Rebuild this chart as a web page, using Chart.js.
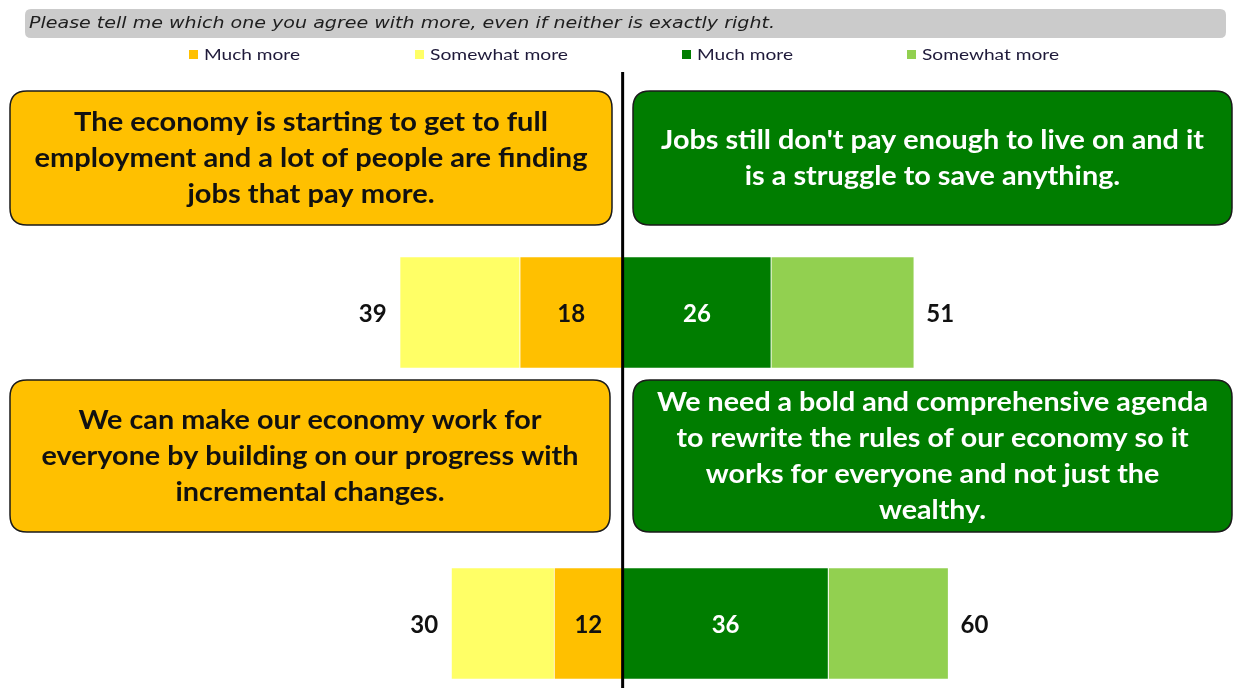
<!DOCTYPE html>
<html><head><meta charset="utf-8">
<script src="https://cdn.jsdelivr.net/npm/chart.js@4.4.1/dist/chart.umd.min.js"></script>
<style>html,body{margin:0;padding:0;background:#fff;}#c{display:block}</style>
</head><body>
<canvas id="c" width="1233" height="688"></canvas>
<script>
// ---- data ----
const rows = ['Row 1', 'Row 2'];
const leftMuch = [18, 12];
const leftSomewhat = [21, 18];
const rightMuch = [26, 36];
const rightSomewhat = [25, 21];
const leftTotals = [39, 30];
const rightTotals = [51, 60];
const seriesNames = ['Much more', 'Somewhat more', 'Much more', 'Somewhat more'];
const titleText = 'Please tell me which one you agree with more, even if neither is exactly right.';
const leftStatements = [
  ['The economy is starting to get to full', 'employment and a lot of people are finding', 'jobs that pay more.'],
  ['We can make our economy work for', 'everyone by building on our progress with', 'incremental changes.']
];
const rightStatements = [
  ["Jobs still don't pay enough to live on and it", 'is a struggle to save anything.'],
  ['We need a bold and comprehensive agenda', 'to rewrite the rules of our economy so it', 'works for everyone and not just the', 'wealthy.']
];

// ---- styles / layout ----
const COL = {orange:'#FFC000', yellow:'#FFFF66', dgreen:'#007D00', lgreen:'#92D050', grey:'#CBCBCB'};
const leftBoxes = [{x:10,y:91,w:602,h:134,tw:553},{x:10,y:380,w:600,h:152,tw:537}];
const rightBoxes = [{x:633,y:91,w:599,h:134,tw:543},{x:633,y:380,w:599,h:152,tw:551}];

function roundRect(ctx,x,y,w,h,r){
  ctx.beginPath();
  ctx.moveTo(x+r,y);ctx.lineTo(x+w-r,y);ctx.quadraticCurveTo(x+w,y,x+w,y+r);
  ctx.lineTo(x+w,y+h-r);ctx.quadraticCurveTo(x+w,y+h,x+w-r,y+h);
  ctx.lineTo(x+r,y+h);ctx.quadraticCurveTo(x,y+h,x,y+h-r);
  ctx.lineTo(x,y+r);ctx.quadraticCurveTo(x,y,x+r,y);ctx.closePath();
}
function scaledText(ctx,text,x,y,sx,align){
  ctx.save();ctx.translate(x,y);ctx.scale(sx,1);ctx.textAlign=align;ctx.fillText(text,0,0);ctx.restore();
}
function drawStatement(ctx,box,lines,fill,textColor){
  roundRect(ctx,box.x,box.y,box.w,box.h,17);
  ctx.fillStyle=fill;ctx.fill();
  ctx.lineWidth=1.5;ctx.strokeStyle='#1a1a1a';ctx.stroke();
  ctx.font='bold 26px Lato';
  const maxW=Math.max(...lines.map(l=>ctx.measureText(l).width));
  const sx=box.tw/maxW;
  const lh=36;
  const cy=box.y+box.h/2+1;
  const y0=cy-(lines.length-1)*lh/2;
  ctx.fillStyle=textColor;ctx.textBaseline='middle';
  lines.forEach((l,i)=>scaledText(ctx,l,box.x+box.w/2,y0+i*lh,sx,'center'));
}

const decor = {
  id:'decor',
  beforeDraw(chart){
    const ctx=chart.ctx;
    ctx.save();
    ctx.fillStyle='#fff';ctx.fillRect(0,0,chart.width,chart.height);
    // title bar
    roundRect(ctx,25,9,1201,29,6);ctx.fillStyle=COL.grey;ctx.fill();
    ctx.font='italic 16.5px "DejaVu Sans"';ctx.fillStyle='#1e1e1e';ctx.textBaseline='middle';
    const tw=ctx.measureText(titleText).width;
    scaledText(ctx,titleText,29,24,746/tw,'left');
    // legend
    const targets=[96,138,96,137];
    const starts=[189,415,682,907];
    ctx.font='16px Lato';
    chart.data.datasets.forEach((ds,i)=>{
      ctx.fillStyle=ds.backgroundColor;
      ctx.fillRect(starts[i],50,9,9);
      ctx.fillStyle='#1f1a3a';
      const w=ctx.measureText(ds.label).width;
      scaledText(ctx,ds.label,starts[i]+15,55,targets[i]/w,'left');
    });
    // statements
    leftStatements.forEach((lines,i)=>drawStatement(ctx,leftBoxes[i],lines,COL.orange,'#111'));
    rightStatements.forEach((lines,i)=>drawStatement(ctx,rightBoxes[i],lines,COL.dgreen,'#fff'));
    ctx.restore();
  },
  afterDatasetsDraw(chart){
    const ctx=chart.ctx;
    ctx.save();
    ctx.font='bold 24px Lato';ctx.textBaseline='middle';
    const m0=chart.getDatasetMeta(0), m1=chart.getDatasetMeta(1), m2=chart.getDatasetMeta(2), m3=chart.getDatasetMeta(3);
    rows.forEach((r,i)=>{
      const a=m0.data[i], b=m1.data[i], c=m2.data[i], d=m3.data[i];
      ctx.textAlign='center';
      ctx.fillStyle='#111';
      ctx.fillText(String(leftMuch[i]),(a.x+a.base)/2,a.y+2);
      ctx.fillStyle='#fff';
      ctx.fillText(String(rightMuch[i]),(c.x+c.base)/2,c.y+2);
      ctx.fillStyle='#111';
      ctx.textAlign='right';
      ctx.fillText(String(leftTotals[i]),Math.min(b.x,b.base)-13,b.y+2);
      ctx.textAlign='left';
      ctx.fillText(String(rightTotals[i]),Math.max(d.x,d.base)+12,d.y+2);
    });
    // centre line
    const x0=chart.scales.x.getPixelForValue(0);
    ctx.strokeStyle='#000';ctx.lineWidth=3;
    ctx.beginPath();ctx.moveTo(x0,72);ctx.lineTo(x0,chart.height);ctx.stroke();
    ctx.restore();
  }
};

new Chart(document.getElementById('c'),{
  type:'bar',
  data:{
    labels:rows,
    datasets:[
      {label:seriesNames[0],data:leftMuch.map(v=>-v),backgroundColor:COL.orange},
      {label:seriesNames[1],data:leftSomewhat.map(v=>-v),backgroundColor:COL.yellow},
      {label:seriesNames[2],data:rightMuch,backgroundColor:COL.dgreen},
      {label:seriesNames[3],data:rightSomewhat,backgroundColor:COL.lgreen}
    ]
  },
  options:{
    responsive:false,animation:false,indexAxis:'y',
    layout:{padding:{left:28,right:10,top:312.5,bottom:64.5}},
    datasets:{bar:{barThickness:112,borderColor:'#ffffff',borderWidth:1,clip:false}},
    plugins:{legend:{display:false},title:{display:false},tooltip:{enabled:false}},
    scales:{
      x:{stacked:true,display:false,min:-104,max:105},
      y:{stacked:true,display:false,offset:false}
    }
  },
  plugins:[decor]
});
</script>
</body></html>
